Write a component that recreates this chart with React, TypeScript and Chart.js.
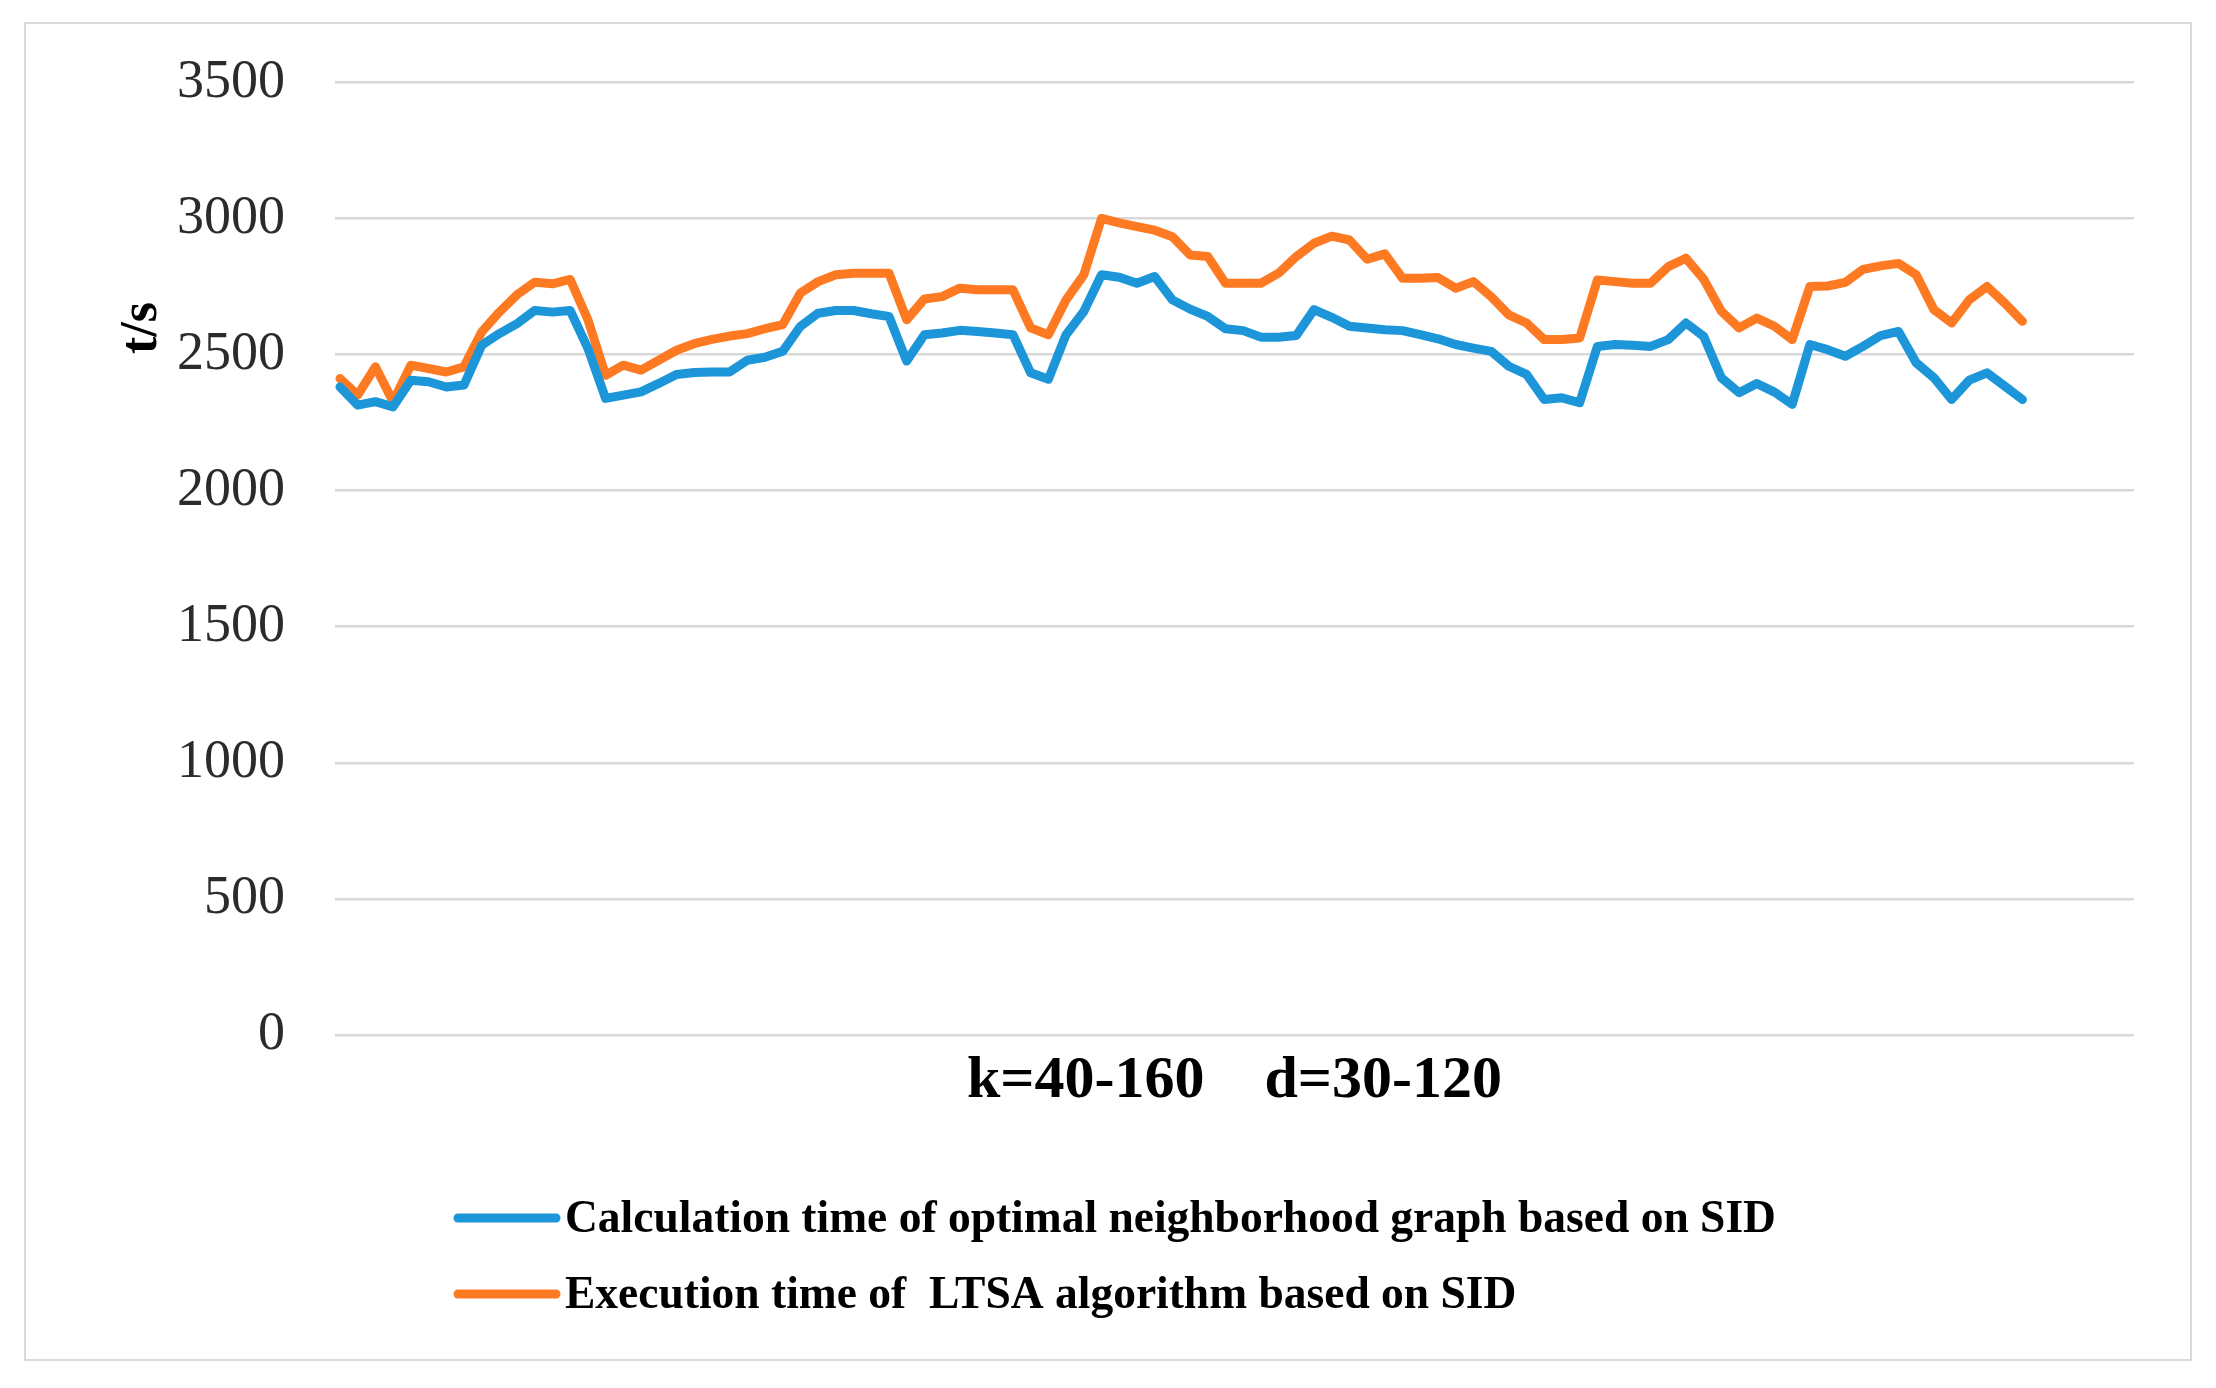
import React, { useEffect, useRef } from "react";
import { Chart, registerables } from "chart.js";

Chart.register(...registerables);

const seriesLabels = [
  "Calculation time of optimal neighborhood graph based on SID",
  "Execution time of  LTSA algorithm based on SID",
];
const seriesColors = ["#1c95d9", "#fe7a22"];

// t/s for each (k, d) run, in plotting order
const neighborhoodGraphTime = [
  2381, 2314, 2327, 2308, 2406, 2400, 2381, 2388, 2534, 2577,
  2614, 2662, 2656, 2662, 2523, 2339, 2351, 2363, 2394, 2427,
  2434, 2436, 2436, 2479, 2490, 2512, 2604, 2652, 2662, 2662,
  2650, 2640, 2476, 2573, 2579, 2589, 2585, 2579, 2573, 2433,
  2409, 2573, 2658, 2793, 2784, 2762, 2787, 2701, 2667, 2640,
  2595, 2588, 2564, 2564, 2570, 2665, 2637, 2604, 2598, 2591,
  2588, 2573, 2558, 2537, 2524, 2512, 2457, 2427, 2335, 2341,
  2323, 2530, 2537, 2534, 2530, 2555, 2616, 2567, 2415, 2360,
  2394, 2362, 2317, 2537, 2518, 2494, 2530, 2570, 2585, 2470,
  2415, 2335, 2406, 2433, 2384, 2335,
];

const ltsaTime = [
  2412, 2351, 2455, 2327, 2461, 2449, 2436, 2455, 2583, 2656,
  2720, 2766, 2760, 2776, 2628, 2424, 2461, 2443, 2479, 2516,
  2540, 2556, 2568, 2577, 2595, 2610, 2726, 2768, 2793, 2799,
  2799, 2799, 2628, 2704, 2713, 2744, 2738, 2738, 2738, 2598,
  2573, 2701, 2793, 3000, 2984, 2970, 2957, 2933, 2866, 2860,
  2762, 2762, 2762, 2799, 2860, 2909, 2935, 2921, 2850, 2870,
  2780, 2780, 2783, 2744, 2768, 2713, 2646, 2616, 2555, 2555,
  2561, 2774, 2768, 2762, 2762, 2823, 2854, 2777, 2659, 2598,
  2634, 2604, 2555, 2750, 2752, 2765, 2813, 2826, 2835, 2793,
  2665, 2616, 2701, 2750, 2689, 2622,
];

const xAxisTitle = "k=40-160    d=30-120";
const yAxisTitle = "t/s";

const serif = "'Liberation Serif', 'Times New Roman', serif";

const extrasPlugin = {
  id: "extras",
  beforeDraw: (chart: any) => {
    const { ctx } = chart;
    // outer frame
    ctx.save();
    ctx.strokeStyle = "#d9d9d9";
    ctx.lineWidth = 2;
    ctx.strokeRect(25, 23, 2166, 1337);
    ctx.restore();
  },
  afterDraw: (chart: any) => {
    const { ctx } = chart;

    // rotated unit label, sits high on the axis like the original
    ctx.save();
    ctx.translate(143, 328);
    ctx.rotate(-Math.PI / 2);
    ctx.font = `bold 52px ${serif}`;
    ctx.fillStyle = "#000";
    ctx.textAlign = "center";
    ctx.textBaseline = "middle";
    ctx.fillText(yAxisTitle, 0, 0);
    ctx.restore();

    // legend, one entry per row, left aligned
    chart.data.datasets.forEach((ds: any, i: number) => {
      const y = 1218 + i * 76;
      ctx.save();
      ctx.strokeStyle = ds.borderColor;
      ctx.lineWidth = 9;
      ctx.lineCap = "round";
      ctx.beginPath();
      ctx.moveTo(458, y);
      ctx.lineTo(556, y);
      ctx.stroke();
      ctx.font = `bold 45.5px ${serif}`;
      ctx.fillStyle = "#000";
      ctx.textAlign = "left";
      ctx.textBaseline = "middle";
      ctx.fillText(ds.label, 565, y + 2);
      ctx.restore();
    });
  },
};

const App: React.FC = () => {
  const canvasRef = useRef<HTMLCanvasElement | null>(null);

  useEffect(() => {
    if (!canvasRef.current) return;
    const ctx = canvasRef.current.getContext("2d");
    if (!ctx) return;

    const series = [neighborhoodGraphTime, ltsaTime];

    const chart = new Chart(ctx, {
      type: "line",
      data: {
        datasets: series.map((values, s) => ({
          label: seriesLabels[s],
          data: values.map((v, i) => ({ x: i, y: v })),
          borderColor: seriesColors[s],
          backgroundColor: seriesColors[s],
          borderWidth: 9,
          borderJoinStyle: "round" as const,
          borderCapStyle: "round" as const,
          pointRadius: 0,
          tension: 0,
        })),
      },
      options: {
        animation: false,
        responsive: true,
        maintainAspectRatio: false,
        layout: { padding: { left: 0, top: 76, right: 82, bottom: 271 } },
        plugins: {
          legend: { display: false },
          tooltip: { enabled: false },
        },
        scales: {
          x: {
            type: "linear",
            min: -0.28,
            max: 101.3,
            grid: { display: false },
            border: { display: false },
            ticks: { display: false },
            title: {
              display: true,
              text: xAxisTitle,
              color: "#000",
              font: { family: serif, size: 60, weight: "bold" },
              padding: { top: 2, bottom: 0 },
            },
          },
          y: {
            min: 0,
            max: 3500,
            ticks: {
              stepSize: 500,
              padding: 50,
              color: "#2b2b2b",
              font: { family: serif, size: 54 },
              callback: (v: any) => String(v),
            },
            grid: { color: "#d9d9d9", lineWidth: 2.5, drawTicks: false },
            border: { display: false },
            afterFit: (scale: any) => {
              scale.width = 335;
            },
          },
        },
      },
      plugins: [extrasPlugin],
    });

    return () => {
      chart.destroy();
    };
  }, []);

  return (
    <div style={{ position: "absolute", left: 0, top: 0, width: 2216, height: 1388, background: "#fff" }}>
      <canvas ref={canvasRef}></canvas>
    </div>
  );
};

export default App;
